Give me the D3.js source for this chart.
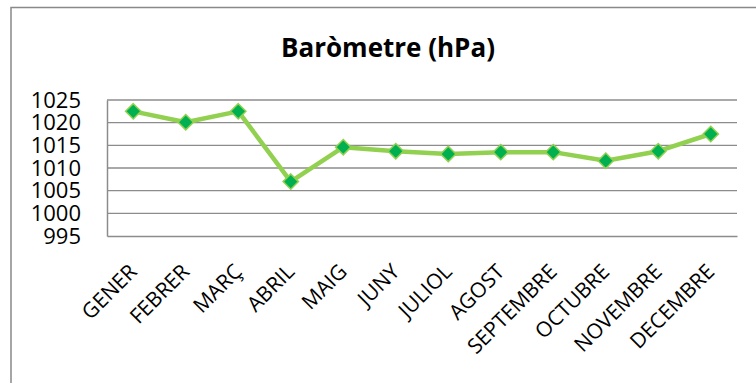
<!DOCTYPE html>
<html>
<head>
<meta charset="utf-8">
<script src="https://cdn.jsdelivr.net/npm/d3@7"></script>
<style>
  html, body { margin: 0; padding: 0; background: #fff; }
  svg { display: block; }
</style>
</head>
<body>
<svg id="chart" width="756" height="383"></svg>
<script>
// Monthly mean barometric pressure (hPa)
const months = ["GENER", "FEBRER", "MARÇ", "ABRIL", "MAIG", "JUNY", "JULIOL",
                "AGOST", "SEPTEMBRE", "OCTUBRE", "NOVEMBRE", "DECEMBRE"];
const pressure = [1022.5, 1020.1, 1022.5, 1007.0, 1014.6, 1013.7, 1013.1,
                  1013.5, 1013.5, 1011.6, 1013.7, 1017.5];
const yTicks = [995, 1000, 1005, 1010, 1015, 1020, 1025];
const title = "Baròmetre (hPa)";

const svg = d3.select("#chart");
const W = 756, H = 383;
const plot = { left: 107, right: 737, top: 100, bottom: 236 };
const font = "'Open Sans', 'Noto Sans', sans-serif";

// Chart frame
svg.append("rect")
  .attr("x", 11).attr("y", 7.5)
  .attr("width", W + 10).attr("height", H + 10)
  .attr("fill", "#fff").attr("stroke", "#898989").attr("stroke-width", 1.5);

// Title
svg.append("text")
  .attr("x", 388).attr("y", 57)
  .attr("text-anchor", "middle")
  .attr("font-family", font).attr("font-weight", "bold").attr("font-size", 26)
  .attr("fill", "#000")
  .text(title);

const x = d3.scaleBand().domain(months).range([plot.left, plot.right]);
const y = d3.scaleLinear().domain([995, 1025]).range([plot.bottom, plot.top]);

// Horizontal gridlines
svg.append("g").selectAll("line").data(yTicks.filter(t => t > 995)).join("line")
  .attr("x1", plot.left).attr("x2", plot.right)
  .attr("y1", d => y(d)).attr("y2", d => y(d))
  .attr("stroke", "#8c8c8c").attr("stroke-width", 1.3);

// Value axis
const yAxis = svg.append("g")
  .attr("transform", `translate(${plot.left},0)`)
  .call(d3.axisLeft(y).tickValues(yTicks).tickFormat(d3.format("d"))
    .tickSize(0).tickPadding(26));
yAxis.select(".domain").attr("stroke", "#8c8c8c").attr("stroke-width", 1.5);
yAxis.selectAll("text")
  .attr("font-family", font).attr("font-size", 22).attr("fill", "#000");

// Category axis
const xAxis = svg.append("g")
  .attr("transform", `translate(0,${plot.bottom})`)
  .call(d3.axisBottom(x).tickSize(0).tickPadding(0));
xAxis.select(".domain").attr("stroke", "#8c8c8c").attr("stroke-width", 1.5);
xAxis.selectAll("text")
  .attr("font-family", font).attr("font-size", 21).attr("fill", "#000")
  .attr("text-anchor", "end")
  .attr("dy", null)
  .attr("transform", "translate(5,37) rotate(-45)");

// Series line
const line = d3.line()
  .x((d, i) => x(months[i]) + x.bandwidth() / 2)
  .y(d => y(d));

svg.append("path")
  .datum(pressure)
  .attr("d", line)
  .attr("fill", "none")
  .attr("stroke", "#92D050").attr("stroke-width", 4.5)
  .attr("stroke-linejoin", "round");

// Diamond markers
const diamond = d3.symbol().type(d3.symbolDiamond2).size(150);
svg.append("g").selectAll("path").data(pressure).join("path")
  .attr("d", diamond)
  .attr("transform", (d, i) => `translate(${x(months[i]) + x.bandwidth() / 2},${y(d)})`)
  .attr("fill", "#00B050")
  .attr("stroke", "#92D050").attr("stroke-width", 1.5);
</script>
</body>
</html>
